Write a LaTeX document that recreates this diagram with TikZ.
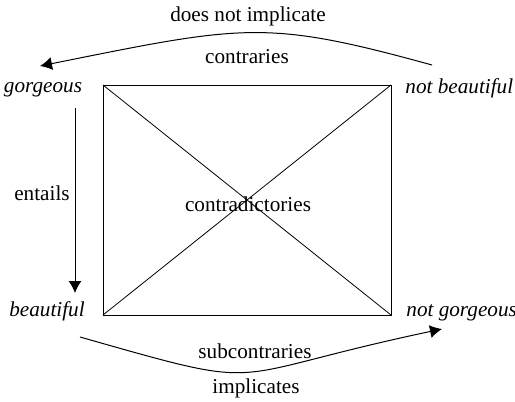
\documentclass[tikz,border=0pt]{standalone}
\usepackage{fontspec}
\setmainfont{Liberation Serif}
\usetikzlibrary{arrows.meta}
\begin{document}
\begin{tikzpicture}[x=0.5pt,y=-0.5pt,
  lbl/.style={font=\fontsize{10.6}{12}\selectfont, inner sep=0pt, anchor=base},
  term/.style={lbl, font=\fontsize{10.6}{12}\selectfont\itshape},
  conn/.style={line width=0.5pt, -{Latex[length=6pt,width=6.5pt]}},
  boxline/.style={line width=0.5pt},
  diag/.style={line width=0.4pt}]
\useasboundingbox (0,0) rectangle (515,402);
% square corners
\coordinate (tl) at (103,85);
\coordinate (tr) at (391,85);
\coordinate (bl) at (103,315);
\coordinate (br) at (391,315);
\draw[boxline] (tl) rectangle (br);
\draw[diag] (tl) -- (br);
\draw[diag] (tr) -- (bl);
% terms
\node[term] (gorg) at (43,92) {gorgeous};
\node[term, anchor=base west] (nbeau) at (405,93) {not beautiful};
\node[term] (beau) at (47,316) {beautiful};
\node[term, anchor=base west] (ngorg) at (406,316) {not gorgeous};
% labels
\node[lbl] (dni) at (248,21) {does not implicate};
\node[lbl] (contr) at (247,63) {contraries};
\node[lbl] (contrad) at (248,211) {contradictories};
\node[lbl] (ent) at (42,200) {entails};
\node[lbl] (subc) at (255,358) {subcontraries};
\node[lbl] (impl) at (256,393) {implicates};
% arrow endpoints
\coordinate (ta) at (432,65);
\coordinate (tb) at (40,66);
\coordinate (la) at (75,108);
\coordinate (lb) at (75,293);
\coordinate (ba) at (80,337);
\coordinate (bb) at (442,329);
% connectors
\draw[conn] (ta) .. controls (265,19) and (244,25) .. (tb);
\draw[conn] (la) -- (lb);
\draw[conn] (ba) .. controls (277,393) and (215,377) .. (bb);
\end{tikzpicture}
\end{document}
